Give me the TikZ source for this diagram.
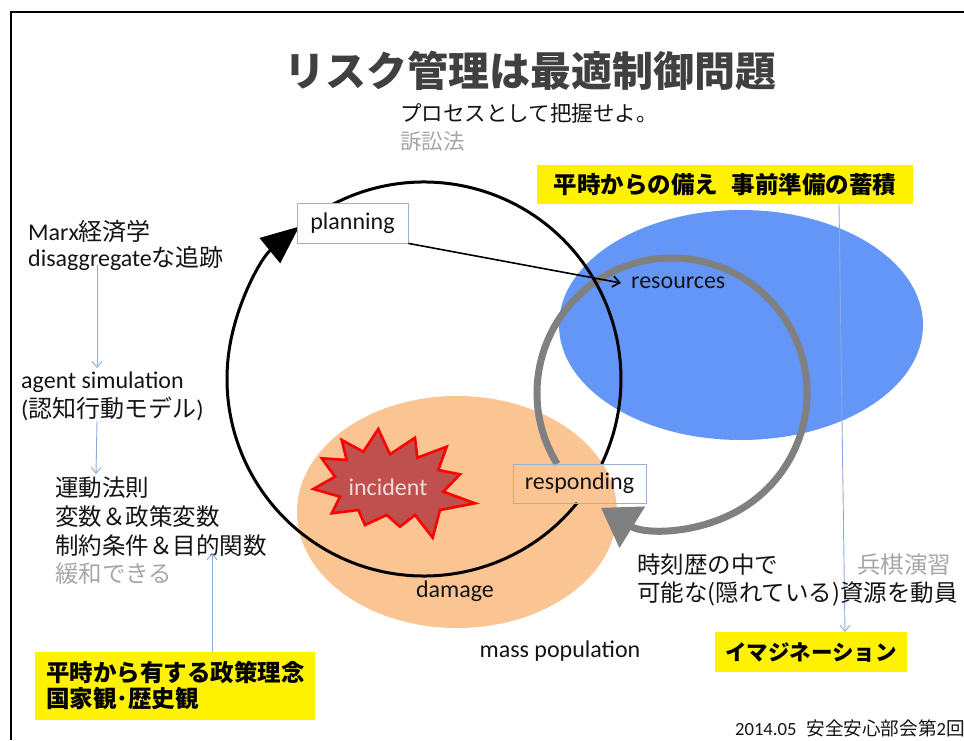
\documentclass[tikz,border=0pt]{standalone}
\usepackage{fontspec}
\setmainfont{Carlito}
\newfontfamily\jp{Noto Sans CJK JP}
\usetikzlibrary{arrows.meta}
\definecolor{blueell}{RGB}{100,150,248}
\definecolor{orangeell}{RGB}{250,197,147}
\definecolor{grayarc}{RGB}{128,128,128}
\definecolor{boxline}{RGB}{149,179,215}
\definecolor{thinblue}{RGB}{140,170,215}
\definecolor{softgray}{RGB}{166,166,166}
\definecolor{titlegray}{RGB}{64,64,64}
\definecolor{burstfill}{RGB}{192,80,77}
\definecolor{bursttext}{RGB}{242,220,219}
\definecolor{ink}{RGB}{20,20,20}
\begin{document}
\begin{tikzpicture}[x=1pt,y=1pt,
  txt/.style={inner sep=0pt, anchor=west, text=ink, font=\fontsize{24}{28}\selectfont},
  jtxt/.style={inner sep=0pt, anchor=west, text=ink, font=\fontsize{23.5}{28}\jp\selectfont},
  procbox/.style={draw=boxline, line width=0.8pt, inner sep=0pt, text=ink, font=\fontsize{24}{28}\selectfont},
  yelbox/.style={fill=yellow, inner sep=0pt, text=black, font=\fontsize{23.5}{27}\jp\bfseries\selectfont},
  thinarrow/.style={draw=thinblue, line width=0.9pt, -{Straight Barb[length=6pt,width=10pt]}},
  blackarc/.style={draw=black, line width=3pt},
  grayring/.style={draw=grayarc, line width=7pt},
]
\useasboundingbox (0,0) rectangle (964,-740);
% frame
\coordinate (fr1) at (11,-740);
\coordinate (fr2) at (11,-12);
\coordinate (fr3) at (970,-12);
\draw[line width=2pt] (fr1) -- (fr2) -- (fr3);

% title and subtitle
\node[inner sep=0pt, text=titlegray, font=\fontsize{41}{46}\jp\bfseries\selectfont] (title) at (530,-71) {リスク管理は最適制御問題};
\node[jtxt, font=\fontsize{21.5}{26}\jp\selectfont] (sub) at (400,-113) {プロセスとして把握せよ。};
\node[jtxt, text=softgray, font=\fontsize{21.5}{26}\jp\selectfont] (sosho) at (400,-141) {訴訟法};

% ellipses
\fill[blueell] (741,-325) ellipse [x radius=182, y radius=115];
\fill[orangeell] (457,-512) ellipse [x radius=160, y radius=116];

% grey ring with arrow
\coordinate (G) at (672,-393);
\draw[grayring, -{Triangle[length=37pt,width=47pt]}] ([shift={(211.7:135)}]G) arc[start angle=211.7, end angle=-121.8, radius=135];

% black ring
\coordinate (C) at (424,-379);
\draw[blackarc] ([shift={(122:197)}]C) arc[start angle=122, end angle=-25.56, radius=197];
\draw[blackarc, -{Triangle[length=38pt,width=32pt]}] ([shift={(-39:197)}]C) arc[start angle=-39, end angle=-230.7, radius=197];

% incident burst
\draw[fill=burstfill, draw=red, line width=2.6pt, line join=miter]
  (378.3,-429) -- (390,-454.3) -- (415,-437.7) -- (417.3,-457.7) -- (446.7,-446.7)
  -- (438.3,-470) -- (460,-474.3) -- (443.3,-491.7) -- (475,-503.3) -- (440,-510)
  -- (432.7,-537.7) -- (415,-515) -- (400,-526.7) -- (386.7,-515) -- (365,-525)
  -- (358.3,-510) -- (331.7,-513.3) -- (340,-496.7) -- (313.3,-489) -- (335,-476.7)
  -- (321.7,-458.3) -- (346.7,-460) -- (341.7,-440) -- (363.3,-451.7) -- cycle;
\node[inner sep=0pt, text=bursttext, font=\fontsize{24}{28}\selectfont] (incident) at (388,-487) {incident};

% process boxes
\node[procbox, fill=white, minimum width=111pt, minimum height=40pt] (planning) at (352.5,-223) {planning};
\node[procbox, minimum width=133pt, minimum height=39pt] (responding) at (579.5,-483.5) {responding};

\node[txt] (resources) at (631,-283) {resources};
\draw[line width=1.6pt, -{Straight Barb[length=7pt,width=11pt]}] (planning.south east) -- ([xshift=-10pt]resources.west);

\node[txt, anchor=center] (damage) at (455,-591) {damage};
\node[txt, anchor=center] (mass) at (560,-651) {mass population};

% left column
\node[txt] (marx) at (28,-231) {Marx{\jp 経済学}};
\node[txt] (disagg) at (28,-258) {disaggregate{\jp な追跡}};
\node[txt] (agent) at (21,-382) {agent simulation};
\node[txt] (ninchi) at (21,-409) {({\jp 認知行動モデル})};
\node[jtxt] (undo) at (55,-488) {運動法則};
\node[jtxt] (hensu) at (55,-517) {変数＆政策変数};
\node[jtxt] (seiyaku) at (55,-546) {制約条件＆目的関数};
\node[jtxt, text=softgray] (kanwa) at (55,-574) {緩和できる};

\coordinate (a1s) at (97,-265);
\coordinate (a1e) at (97,-368);
\coordinate (a2s) at (97,-421);
\coordinate (a2e) at (96,-474);
\draw[thinarrow] (a1s) -- (a1e);
\draw[thinarrow] (a2s) -- (a2e);

% yellow boxes
\node[yelbox, minimum width=376pt, minimum height=39pt] (prep) at (725,-184.5) {平時からの備え\hspace{14pt}事前準備の蓄積};
\node[yelbox, minimum width=280pt, minimum height=68pt, align=left, text width=258pt] (policy) at (175,-686) {平時から有する政策理念\\[-1pt]国家観･歴史観};
\node[yelbox, minimum width=192pt, minimum height=40pt, font=\fontsize{21.5}{26}\jp\bfseries\selectfont] (imag) at (811,-652) {イマジネーション};

\coordinate (a3e) at (212,-553);
\draw[thinarrow] (policy.north -| a3e) -- (a3e);
\coordinate (a4s) at (839,-204);
\coordinate (a4e) at (845,-632);
\draw[thinarrow] (a4s) -- (a4e);

% right texts
\node[jtxt] (jikoku) at (637,-565) {時刻歴の中で};
\node[jtxt] (kanou) at (637,-594) {{\jp 可能な}({\jp 隠れている}){\jp 資源を動員}};
\node[jtxt, text=softgray] (heiki) at (857,-565) {兵棋演習};

\node[txt, font=\fontsize{18.6}{22}\selectfont] (date) at (735,-728) {2014.05\hspace{10pt}{\jp 安全安心部会第}2{\jp 回}};
\end{tikzpicture}
\end{document}
